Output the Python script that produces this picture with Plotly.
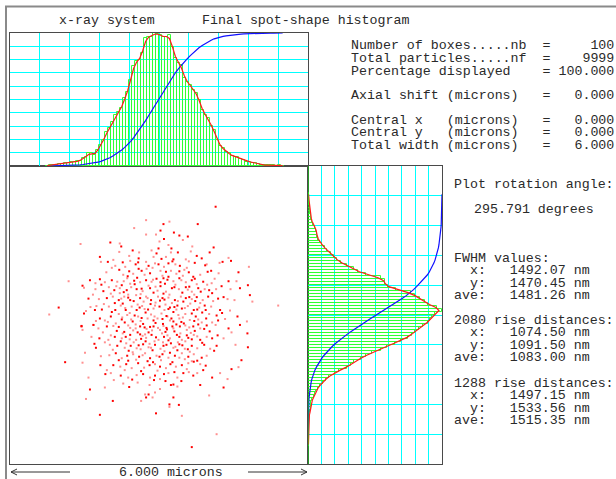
import numpy as np
import plotly.graph_objects as go

W, H = 616, 479

# ---------------- data ----------------
n_boxes = 100
x_counts = [0]*12 + [1, 3, 3, 4, 5, 6, 10, 10, 12, 13, 14, 15, 23, 26, 38, 38, 33, 48, 63, 78,
                     102, 114, 132, 153, 162, 174, 204, 222, 258, 300, 315, 318, 339, 384, 387, 387,
                     399, 396, 393, 387, 387, 393, 357, 324, 309, 303, 264, 252, 243, 228, 219, 198,
                     168, 153, 144, 120, 108, 78, 60, 54, 42, 39, 30, 28, 27, 20, 18, 13, 13, 10, 9,
                     5, 3, 3, 2, 3, 2, 1, 2, 1] + [0]*8
y_counts = [0]*6 + [2, 1, 2, 1, 2, 2, 3, 2, 3, 3, 4, 6, 9, 9, 10, 12, 18, 21, 24, 30, 36, 45, 54, 63,
                    81, 93, 117, 129, 138, 159, 174, 192, 216, 234, 258, 276, 297, 309, 318, 330, 342,
                    357, 363, 369, 378, 399, 384, 357, 348, 333, 318, 306, 261, 237, 228, 228, 216, 174,
                    150, 138, 117, 99, 87, 78, 69, 57, 51, 42, 36, 30, 27, 27, 24, 21, 15, 12, 9, 9, 6,
                    6, 6, 4, 3, 3, 2] + [0]*9

# particle positions (microns)
spot_xy = [
    (1.14,2.18),(-0.26,1.91),(0.09,1.83),(0.21,1.88),(0.78,1.83),(-0.50,1.75),(0.03,1.70),(-0.26,1.62),
    (0.30,1.66),(-0.06,1.62),(0.41,1.60),(0.48,1.51),(0.58,1.58),(-1.58,1.43),(-0.98,1.46),(-0.79,1.44),
    (-0.76,1.38),(0.01,1.48),(0.10,1.53),(0.19,1.41),(0.25,1.34),(0.67,1.38),(1.10,1.36),(-0.40,1.26),
    (-0.53,1.30),(-0.15,1.30),(-0.01,1.34),(0.24,1.26),(0.38,1.26),(0.64,1.28),(1.02,1.26),(-0.80,1.27),
    (-1.19,1.17),(-0.60,1.19),(-0.41,1.14),(-0.11,1.17),(-0.05,1.24),(0.14,1.17),(0.29,1.12),(0.54,1.12),
    (0.76,1.19),(0.60,1.08),(0.72,1.05),(1.22,1.05),(1.28,1.07),(1.40,1.15),(1.45,1.09),(-1.17,1.07),
    (-1.03,1.07),(-0.88,0.99),(-0.73,1.06),(-0.58,1.09),(-0.42,1.06),(-0.26,1.07),(-0.21,0.99),(-0.08,1.04),
    (-0.01,1.02),(0.10,0.97),(0.19,1.04),(0.33,1.02),(0.42,0.99),(0.56,0.95),(0.93,1.00),(0.96,1.02),
    (1.05,0.89),(1.81,0.97),(1.60,0.86),(-0.95,0.95),(-0.80,0.91),(-0.72,0.81),(-0.60,0.88),(-0.52,0.83),
    (-0.35,0.89),(-0.25,0.93),(-0.18,0.84),(0.03,0.89),(0.14,0.87),(0.24,0.89),(0.41,0.88),(0.48,0.79),
    (0.60,0.86),(0.83,0.81),(0.98,0.87),(1.20,0.84),(1.40,0.68),(1.56,0.68),(1.79,0.60),(-1.82,0.68),
    (-1.54,0.59),(-1.51,0.55),(-1.39,0.70),(-1.28,0.64),(-1.19,0.72),(-1.09,0.66),(-0.95,0.70),(-0.84,0.67),
    (-0.75,0.60),(-0.64,0.74),(-0.50,0.69),(-0.38,0.66),(-0.26,0.70),(-0.15,0.67),(-0.05,0.73),(0.07,0.79),
    (0.17,0.71),(0.29,0.68),(0.41,0.74),(0.54,0.66),(0.66,0.70),(0.76,0.62),(0.89,0.67),(1.06,0.64),
    (1.26,0.58),(1.44,0.52),(1.63,0.54),(-1.28,0.52),(-1.12,0.48),(-1.01,0.56),(-0.90,0.50),(-0.79,0.44),
    (-0.65,0.50),(-0.56,0.56),(-0.45,0.52),(-0.33,0.48),(-0.18,0.54),(-0.07,0.57),(0.03,0.58),(0.14,0.47),
    (0.26,0.54),(0.40,0.52),(0.54,0.56),(0.66,0.47),(0.79,0.54),(0.92,0.52),(1.01,0.50),(1.15,0.52),
    (1.30,0.36),(1.52,0.30),(1.83,0.40),(1.88,0.27),(-1.42,0.33),(-1.21,0.32),(-1.05,0.34),(-0.93,0.37),
    (-0.81,0.30),(-0.70,0.37),(-0.58,0.30),(-0.46,0.40),(-0.38,0.34),(-0.26,0.37),(-0.16,0.30),(-0.02,0.37),
    (0.07,0.34),(0.19,0.35),(0.32,0.30),(0.44,0.37),(0.54,0.34),(0.66,0.32),(0.76,0.36),(0.88,0.30),
    (0.99,0.37),(1.09,0.28),(1.19,0.33),(1.38,0.32),(-2.02,0.15),(-2.21,0.01),(-1.51,0.03),(-1.47,0.08),
    (-1.29,0.10),(-1.26,0.18),(-1.15,0.11),(-1.01,0.17),(-0.88,0.10),(-0.77,0.19),(-0.67,0.10),(-0.55,0.17),
    (-0.45,0.10),(-0.34,0.18),(-0.22,0.11),(-0.11,0.13),(0.01,0.17),(0.11,0.10),(0.22,0.15),(0.35,0.11),
    (0.46,0.13),(0.58,0.18),(0.70,0.10),(0.81,0.15),(0.94,0.10),(1.05,0.17),(1.23,0.10),(1.43,0.09),
    (1.58,-0.03),(1.77,-0.13),(-1.56,-0.22),(-1.32,-0.20),(-1.19,-0.07),(-1.09,-0.11),(-0.97,-0.03),(-0.87,-0.17),
    (-0.75,-0.09),(-0.64,0.00),(-0.53,-0.13),(-0.42,-0.03),(-0.32,-0.18),(-0.23,-0.07),(-0.11,-0.11),(-0.03,-0.07),
    (0.08,-0.18),(0.17,-0.03),(0.29,-0.13),(0.41,-0.07),(0.50,-0.17),(0.62,-0.10),(0.74,-0.03),(0.86,-0.15),
    (0.95,-0.07),(1.07,-0.15),(1.16,-0.01),(1.33,-0.08),(1.63,-0.20),(2.40,0.19),
    (-1.56,-0.23),(-1.54,-0.30),(-1.32,-0.20),(-1.22,-0.27),(-1.05,-0.23),(-0.92,-0.22),(-0.70,-0.34),(-0.58,-0.26),
    (-0.38,-0.23),(-0.25,-0.28),(-0.11,-0.23),(0.02,-0.30),(0.15,-0.26),(0.29,-0.27),(0.42,-0.23),(0.56,-0.30),
    (0.69,-0.23),(0.83,-0.27),(0.96,-0.21),(1.14,-0.20),(1.40,-0.27),(1.46,-0.35),(1.78,-0.37),(-1.36,-0.44),
    (-1.20,-0.47),(-1.02,-0.50),(-0.89,-0.44),(-0.75,-0.47),(-0.58,-0.40),(-0.46,-0.50),(-0.38,-0.39),(-0.26,-0.46),
    (-0.15,-0.40),(-0.01,-0.50),(0.10,-0.44),(0.22,-0.47),(0.36,-0.40),(0.46,-0.50),(0.59,-0.46),(0.70,-0.40),
    (0.83,-0.50),(0.96,-0.44),(1.07,-0.47),(1.30,-0.47),(-1.30,-0.58),(-0.99,-0.60),(-0.84,-0.62),(-0.66,-0.57),
    (-0.57,-0.62),(-0.45,-0.67),(-0.32,-0.59),(-0.21,-0.65),(-0.08,-0.60),(0.03,-0.68),(0.15,-0.60),(0.29,-0.66),
    (0.41,-0.59),(0.52,-0.68),(0.66,-0.62),(0.77,-0.67),(0.91,-0.60),(1.03,-0.68),(1.16,-0.62),(1.54,-0.60),
    (1.79,-0.65),(-1.49,-0.76),(-1.27,-0.66),(-1.00,-0.81),(-0.87,-0.77),(-0.75,-0.87),(-0.64,-0.82),(-0.52,-0.79),
    (-0.40,-0.84),(-0.28,-0.77),(-0.18,-0.87),(-0.05,-0.82),(0.07,-0.79),(0.19,-0.86),(0.32,-0.82),(0.46,-0.77),
    (0.59,-0.84),(0.70,-0.79),(0.86,-0.86),(0.96,-0.82),(-1.89,-0.95),(-1.54,-0.96),(-1.18,-1.01),(-1.05,-1.11),
    (-0.92,-1.01),(-0.78,-1.04),(-0.66,-0.99),(-0.55,-1.07),(-0.42,-0.97),(-0.30,-1.06),(-0.19,-1.01),(-0.08,-0.99),
    (0.02,-1.04),(0.14,-1.07),(0.23,-0.99),(0.34,-1.04),(0.46,-1.01),(0.59,-0.97),(0.70,-0.94),(0.83,-0.99),
    (0.94,-1.02),(1.23,-1.17),(1.46,-1.09),(1.60,-1.05),(1.66,-0.91),(-1.42,-1.26),(-1.08,-1.19),(-0.91,-1.31),
    (-0.77,-1.22),(-0.62,-1.26),(-0.54,-1.30),(-0.45,-1.21),(-0.32,-1.19),(-0.18,-1.26),(-0.08,-1.22),(0.02,-1.29),
    (0.10,-1.19),(0.19,-1.17),(0.29,-1.40),(0.37,-1.26),(0.49,-1.17),(0.60,-1.15),(0.69,-1.22),(0.77,-1.17),
    (1.07,-1.26),(1.38,-1.29),(-1.39,-1.50),(-1.09,-1.46),(-0.60,-1.45),(-0.19,-1.41),(-0.10,-1.31),(0.02,-1.49),
    (0.24,-1.41),(0.37,-1.44),(1.30,-1.46),(-0.28,-1.60),(-0.21,-1.60),(-0.08,-1.56),(-0.26,-1.66),(-0.13,-1.66),
    (0.29,-1.66),(-1.47,-1.69),(-0.93,-1.73),(-0.36,-1.73),(0.21,-1.80),(0.21,-1.85),(0.40,-1.81),(1.01,-1.62),
    (-0.06,-1.98),(0.46,-2.03),(-1.19,-2.01),(1.16,-2.40),(0.66,-2.66),
    # dense core (estimated)
    (-0.92,1.11),(-0.47,1.02),(-0.13,0.95),(0.27,1.08),(0.51,0.91),(0.86,1.14),(-0.68,0.97),(0.05,1.13),
    (-1.06,0.86),(-0.63,0.78),(-0.29,0.81),(0.09,0.74),(0.35,0.83),(0.69,0.77),(1.12,0.73),(-0.41,0.93),
    (-0.86,0.58),(-0.49,0.62),(-0.21,0.59),(0.12,0.63),(0.33,0.61),(0.61,0.57),(0.97,0.61),(-1.16,0.61),
    (-0.97,0.43),(-0.71,0.46),(-0.37,0.42),(-0.11,0.45),(0.21,0.41),(0.47,0.45),(0.71,0.41),(1.07,0.44),
    (-1.33,0.41),(-0.62,0.35),(-0.31,0.27),(0.02,0.29),(0.26,0.24),(0.49,0.27),(0.83,0.24),(-0.89,0.24),
    (-1.11,0.22),(-0.73,0.23),(-0.43,0.21),(-0.17,0.22),(0.13,0.21),(0.37,0.19),(0.63,0.23),(0.92,0.19),
    (-1.38,0.16),(-0.95,0.06),(-0.59,0.04),(-0.27,0.05),(0.05,0.03),(0.29,0.06),(0.53,0.02),(0.87,0.05),
    (-0.81,0.02),(-0.49,-0.01),(-0.16,0.01),(0.15,-0.02),(0.39,0.00),(0.66,0.03),(1.01,0.02),(1.27,0.04),
    (-1.03,-0.14),(-0.69,-0.15),(-0.37,-0.12),(-0.07,-0.16),(0.22,-0.11),(0.45,-0.14),(0.79,-0.09),(1.19,-0.11),
    (-1.27,-0.12),(-0.81,-0.24),(-0.47,-0.19),(-0.18,-0.24),(0.09,-0.22),(0.35,-0.19),(0.61,-0.25),(0.91,-0.28),
    (-1.13,-0.35),(-0.85,-0.32),(-0.52,-0.31),(-0.21,-0.35),(0.06,-0.37),(0.31,-0.33),(0.64,-0.36),(1.02,-0.33),
    (-0.97,-0.41),(-0.67,-0.44),(-0.33,-0.42),(-0.06,-0.45),(0.17,-0.41),(0.41,-0.44),(0.77,-0.43),(1.18,-0.41),
    (-1.09,-0.55),(-0.77,-0.53),(-0.51,-0.55),(-0.27,-0.53),(0.08,-0.55),(0.24,-0.57),(0.53,-0.53),(0.87,-0.56),
    (-0.93,-0.70),(-0.61,-0.72),(-0.37,-0.69),(-0.13,-0.71),(0.11,-0.73),(0.37,-0.71),(0.62,-0.74),(1.11,-0.72),
    (-1.17,-0.83),(-0.81,-0.91),(-0.46,-0.90),(-0.23,-0.93),(0.04,-0.91),(0.27,-0.95),(0.52,-0.89),(0.77,-0.92),
    (-0.69,-1.11),(-0.36,-1.13),(-0.03,-1.12),(0.31,-1.15),(0.56,-1.09),(0.89,-1.11),(-0.97,-1.17),(0.13,-1.33),
    (-0.43,-1.36),(0.45,-1.33),(-0.72,-1.38),(0.83,-1.41),
    (-0.71,0.68),(-0.44,0.75),(-0.12,0.71),(0.19,0.77),(0.45,0.70),(0.72,0.73),(-0.58,0.63),(0.03,0.66),
    (-0.79,0.54),(-0.35,0.53),(-0.03,0.49),(0.31,0.56),(0.58,0.51),(0.84,0.47),(-0.62,0.41),(0.09,0.43),
    (-0.76,0.33),(-0.51,0.28),(-0.23,0.34),(0.11,0.31),(0.38,0.28),(0.61,0.36),(-0.07,0.25),(0.73,0.28),
    (-0.68,0.14),(-0.39,0.15),(-0.08,0.19),(0.19,0.12),(0.52,0.14),(0.77,0.11),(-0.29,0.12),(0.31,0.16),
    (-0.74,-0.05),(-0.35,-0.06),(-0.09,-0.03),(0.25,-0.07),(0.48,-0.05),(0.71,-0.12),(-0.56,-0.09),(0.07,-0.08),
    (-0.62,-0.21),(-0.29,-0.25),(-0.02,-0.26),(0.27,-0.23),(0.53,-0.21),(0.79,-0.19),(-0.47,-0.27),(0.16,-0.29),
    (-0.73,-0.37),(-0.43,-0.35),(-0.14,-0.31),(0.13,-0.34),(0.43,-0.37),(0.72,-0.32),(-0.28,-0.39),(0.56,-0.41),
    (-0.59,-0.49),(-0.36,-0.48),(-0.09,-0.53),(0.19,-0.51),(0.38,-0.55),(0.66,-0.49),(-0.19,-0.58),(0.47,-0.61),
    (-0.69,-0.66),(-0.41,-0.61),(-0.16,-0.66),(0.09,-0.62),(0.33,-0.64),(0.58,-0.69),(-0.53,-0.75),(0.22,-0.76),
    (-0.33,-0.81),(0.01,-0.84),(0.41,-0.86),(-0.62,-0.92),(0.66,-0.93),(-0.12,-0.95),
]

info_top = [
    "Number of boxes.....nb  =     100",
    "Total particles.....nf  =    9999",
    "Percentage displayed    = 100.000",
    "Axial shift (microns)   =   0.000",
    "Central x   (microns)   =   0.000",
    "Central y   (microns)   =   0.000",
    "Total width (microns)   =   6.000",
]
info_top_y = [45, 58, 71, 96, 120, 132, 145]

info_right = [
    "Plot rotation angle:", "FWHM values:", "  x:   1492.07 nm", "  y:   1470.45 nm", "ave:   1481.26 nm",
    "2080 rise distances:", "  x:   1074.50 nm", "  y:   1091.50 nm", "ave:   1083.00 nm",
    "1288 rise distances:", "  x:   1497.15 nm", "  y:   1533.56 nm", "ave:   1515.35 nm",
]
info_right_y = [184, 258, 270, 283, 295, 320, 332, 345, 357, 383, 395, 408, 420]

# ---------------- derived ----------------
edges = np.linspace(-3, 3, n_boxes + 1)
centers = (edges[:-1] + edges[1:]) / 2
bw = edges[1] - edges[0]
xc = np.array(x_counts, float)
yc = np.array(y_counts, float)

def smooth(c):
    p = np.pad(c, 1)
    return (p[:-2] + 2 * p[1:-1] + p[2:]) / 4

def span(c):
    nz = np.nonzero(c)[0]
    return nz[0], nz[-1] + 1

xmax = xc.max()
ymax = yc.max()
xs, xe = span(xc)
ys, ye = span(yc)
x_cum = np.cumsum(xc) / xc.sum() * xmax
y_cum = np.cumsum(yc) / yc.sum() * ymax
x_sm = smooth(xc)
y_sm = smooth(yc)

sx = np.array([p[0] for p in spot_xy])
sy = np.array([p[1] for p in spot_xy])

def fx(px):
    return px / W

def fy(py):
    return 1 - py / H

DARK = "#4a4a4a"
CYAN = "#00ffff"
GREEN = "#33ff33"
FONT = dict(family="Liberation Mono, Courier New, monospace", size=13.3, color="#2a2a2a")

fig = go.Figure()

# top histogram
mx = xc > 0
fig.add_trace(go.Bar(x=centers[mx], y=xc[mx], width=bw, xaxis="x2", yaxis="y2",
                     marker=dict(color="rgba(0,0,0,0)", line=dict(color=GREEN, width=1))))
fig.add_trace(go.Scatter(x=centers[xs:xe], y=x_cum[xs:xe], mode="lines", xaxis="x2", yaxis="y2",
                         line=dict(color="#1010ff", width=1.2)))
fig.add_trace(go.Scatter(x=centers[xs:xe], y=x_sm[xs:xe], mode="lines", xaxis="x2", yaxis="y2",
                         line=dict(color="#ff1a1a", width=1.2)))

# right histogram
my = yc > 0
fig.add_trace(go.Bar(y=centers[my], x=yc[my], width=bw, orientation="h", xaxis="x3", yaxis="y3",
                     marker=dict(color="rgba(0,0,0,0)", line=dict(color=GREEN, width=1))))
fig.add_trace(go.Scatter(y=centers[ys:ye], x=y_cum[ys:ye], mode="lines", xaxis="x3", yaxis="y3",
                         line=dict(color="#1010ff", width=1.2)))
fig.add_trace(go.Scatter(y=centers[ys:ye], x=y_sm[ys:ye], mode="lines", xaxis="x3", yaxis="y3",
                         line=dict(color="#ff1a1a", width=1.2)))

# spot diagram
idx = np.arange(len(sx))
bright = idx % 2 == 0
fig.add_trace(go.Scatter(x=sx[~bright], y=sy[~bright], mode="markers", xaxis="x", yaxis="y",
                         marker=dict(symbol="square", size=2, color="#ff9090", line=dict(width=0))))
fig.add_trace(go.Scatter(x=sx[bright], y=sy[bright], mode="markers", xaxis="x", yaxis="y",
                         marker=dict(symbol="square", size=2, color="#ff0000", line=dict(width=0))))

plain = dict(showticklabels=False, ticks="", zeroline=False, showline=True, mirror=True,
             linecolor=DARK, linewidth=1)
sdom_x = [fx(10), fx(308)]
sdom_y = [fy(464), fy(166)]
fig.update_layout(
    width=W, height=H, autosize=False, showlegend=False,
    margin=dict(l=0, r=0, t=0, b=0, pad=0),
    paper_bgcolor="white", plot_bgcolor="rgba(0,0,0,0)",
    xaxis=dict(domain=sdom_x, range=[-3, 3], showgrid=False, anchor="y", **plain),
    yaxis=dict(domain=sdom_y, range=[-3, 3], showgrid=False, anchor="x", **plain),
    xaxis2=dict(domain=sdom_x, range=[-3, 3], anchor="y2", showgrid=True, gridcolor=CYAN,
                gridwidth=1, tick0=-3, dtick=0.6, **plain),
    yaxis2=dict(domain=[fy(166), fy(33)], range=[0, xmax], anchor="x2", showgrid=True,
                gridcolor=CYAN, gridwidth=1, tick0=0, dtick=xmax / 10, **plain),
    xaxis3=dict(domain=[fx(308), fx(442)], range=[0, ymax], anchor="y3", showgrid=True,
                gridcolor=CYAN, gridwidth=1, tick0=0, dtick=ymax / 10, **plain),
    yaxis3=dict(domain=sdom_y, range=[-3, 3], anchor="x3", showgrid=True, gridcolor=CYAN,
                gridwidth=1, tick0=-3, dtick=0.6, **plain),
    bargap=0,
)

FRAME = "#8a8a8a"
shapes = [
    # outer frame
    dict(type="line", xref="paper", yref="paper", x0=fx(5), x1=1, y0=fy(6.5), y1=fy(6.5),
         line=dict(color=FRAME, width=2)),
    dict(type="line", xref="paper", yref="paper", x0=fx(6), x1=fx(6), y0=fy(6), y1=0,
         line=dict(color=FRAME, width=2)),
    # green baseline of side histogram
    dict(type="line", xref="x3", yref="y3 domain", x0=0, x1=0, y0=0, y1=1,
         line=dict(color="#00ee00", width=1), layer="above"),
    # width arrows
    dict(type="line", xref="paper", yref="paper", x0=fx(11), x1=fx(70), y0=fy(472), y1=fy(472),
         line=dict(color="#333", width=1)),
    dict(type="line", xref="paper", yref="paper", x0=fx(11), x1=fx(17), y0=fy(472), y1=fy(469),
         line=dict(color="#333", width=1)),
    dict(type="line", xref="paper", yref="paper", x0=fx(11), x1=fx(17), y0=fy(472), y1=fy(475),
         line=dict(color="#333", width=1)),
    dict(type="line", xref="paper", yref="paper", x0=fx(248), x1=fx(307), y0=fy(472), y1=fy(472),
         line=dict(color="#333", width=1)),
    dict(type="line", xref="paper", yref="paper", x0=fx(307), x1=fx(301), y0=fy(472), y1=fy(469),
         line=dict(color="#333", width=1)),
    dict(type="line", xref="paper", yref="paper", x0=fx(307), x1=fx(301), y0=fy(472), y1=fy(475),
         line=dict(color="#333", width=1)),
]
fig.update_layout(shapes=shapes)

def nbsp(s):
    return s.replace(" ", "\u00a0")

ann = []
def add_text(s, px, py):
    ann.append(dict(text=nbsp(s), x=fx(px), y=fy(py), xref="paper", yref="paper", xanchor="left",
                    yanchor="middle", showarrow=False, font=FONT, borderpad=0))

add_text("x-ray system", 58, 20)
add_text("Final spot-shape histogram", 201, 20)
for s, py in zip(info_top, info_top_y):
    add_text(s, 350, py)
for s, py in zip(info_right, info_right_y):
    add_text(s, 453, py)
add_text("295.791 degrees", 473, 209)
add_text("6.000 microns", 118, 472)
fig.update_layout(annotations=ann)

fig.write_html("out.html", config={"displayModeBar": False},
               post_script="document.body.style.margin='0';document.body.style.padding='0';"
                           "document.body.style.overflow='hidden';")
